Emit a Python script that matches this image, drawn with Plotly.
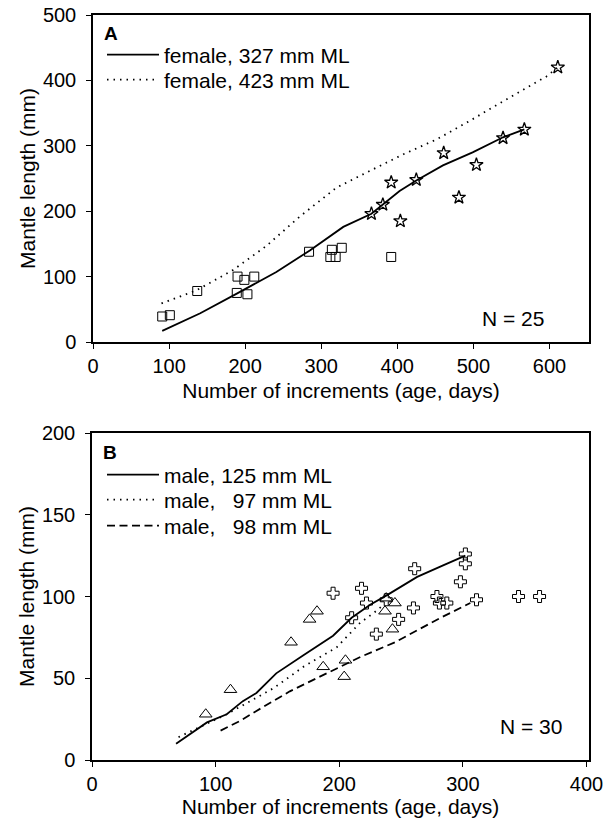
import plotly.graph_objects as go

# ---------------- Panel A data ----------------
a_sq_x = [91, 101, 137, 189, 190, 199, 203, 212, 284, 314, 312, 319, 327, 392]
a_sq_y = [39, 41, 78, 75, 100, 95, 73, 100, 138, 141, 130, 130, 144, 130]
a_star_x = [366, 381, 392, 404, 425, 461, 481, 504, 539, 567, 611]
a_star_y = [196, 210, 244, 185, 248, 289, 221, 271, 312, 325, 420]
a_f327_x = [91, 141, 189, 241, 285, 329, 366, 381, 403, 425, 460, 499, 539, 567]
a_f327_y = [17, 44, 74, 107, 140, 176, 196, 210, 231, 247, 270, 290, 313, 325]
a_f423_x = [90, 136, 184, 228, 272, 320, 368, 408, 452, 495, 539, 596, 611]
a_f423_y = [59, 79, 110, 147, 192, 236, 264, 287, 310, 338, 368, 406, 420]

# ---------------- Panel B data ----------------
b_tri_x = [92, 112, 161, 176, 182, 187, 205, 204, 237, 245, 243, 238]
b_tri_y = [28, 43, 72, 86, 91, 57, 61, 51, 91, 96, 80, 99]
b_cr_x = [195, 218, 222, 210, 230, 238, 261, 260, 248, 279, 281, 287, 298, 302, 302, 311, 345, 362]
b_cr_y = [102, 105, 96, 87, 77, 98, 117, 93, 86, 100, 96, 96, 109, 126, 120, 98, 100, 100]
b_m125_x = [68, 93, 109, 122, 133, 149, 171, 195, 210, 225, 239, 263, 284, 302]
b_m125_y = [10, 23, 28, 36, 41, 53, 64, 76, 87, 95, 101, 112, 119, 125]
b_m97_x = [70, 109, 147, 171, 198, 217, 228, 236]
b_m97_y = [14, 28, 44, 57, 69, 84, 90, 95]
b_m98_x = [104, 120, 133, 160, 198, 217, 245, 282, 306]
b_m98_y = [18, 24, 30, 42, 56, 63, 72, 87, 96]

a_xticks = [0, 100, 200, 300, 400, 500, 600]
a_yticks = [0, 100, 200, 300, 400, 500]
b_xticks = [0, 100, 200, 300, 400]
b_yticks = [0, 50, 100, 150, 200]

NB = "\u00a0"
FONT = "Liberation Sans, Arial, Helvetica, sans-serif"
W, H = 612, 820
TICK_FS = 20
TXT_FS = 21

def px_x(p):
    return p / W

def px_y(p):
    return 1 - p / H

fig = go.Figure()

# Panel A
fig.add_trace(go.Scatter(x=a_sq_x, y=a_sq_y, mode="markers", showlegend=False,
                         marker=dict(symbol="square-open", size=9, color="black", line=dict(width=1)),
                         xaxis="x", yaxis="y"))
fig.add_trace(go.Scatter(x=a_star_x, y=a_star_y, mode="markers", showlegend=False,
                         marker=dict(symbol="star-open", size=10, color="black", line=dict(width=1.3)),
                         xaxis="x", yaxis="y"))
fig.add_trace(go.Scatter(x=a_f327_x, y=a_f327_y, mode="lines", name="female, 327 mm ML",
                         line=dict(color="black", width=1.8), xaxis="x", yaxis="y", legend="legend"))
fig.add_trace(go.Scatter(x=a_f423_x, y=a_f423_y, mode="lines", name="female, 423 mm ML",
                         line=dict(color="black", width=1.8, dash="1.5px,5px"), xaxis="x", yaxis="y",
                         legend="legend2"))

# Panel B
fig.add_trace(go.Scatter(x=b_tri_x, y=b_tri_y, mode="markers", showlegend=False,
                         marker=dict(symbol="triangle-up-open", size=11, color="black", line=dict(width=1)),
                         xaxis="x2", yaxis="y2"))
fig.add_trace(go.Scatter(x=b_cr_x, y=b_cr_y, mode="markers", showlegend=False,
                         marker=dict(symbol="cross-open", size=10, color="black", line=dict(width=1)),
                         xaxis="x2", yaxis="y2"))
fig.add_trace(go.Scatter(x=b_m125_x, y=b_m125_y, mode="lines", name="male, 125 mm ML",
                         line=dict(color="black", width=1.8), xaxis="x2", yaxis="y2", legend="legend3"))
fig.add_trace(go.Scatter(x=b_m97_x, y=b_m97_y, mode="lines", name="male," + NB * 3 + "97 mm ML",
                         line=dict(color="black", width=1.8, dash="1.5px,5px"), xaxis="x2", yaxis="y2",
                         legend="legend4"))
fig.add_trace(go.Scatter(x=b_m98_x, y=b_m98_y, mode="lines", name="male," + NB * 3 + "98 mm ML",
                         line=dict(color="black", width=1.8, dash="8px,4.5px"), xaxis="x2", yaxis="y2",
                         legend="legend5"))

axis_common = dict(showline=True, linecolor="black", linewidth=1.5, mirror=True,
                   ticks="outside", ticklen=5, tickwidth=1, tickcolor="black",
                   showgrid=False, zeroline=False, tickfont=dict(size=TICK_FS, color="black"),
                   automargin=False)

def leg(ypx):
    return dict(x=px_x(102), y=px_y(ypx), xanchor="left", yanchor="middle",
                bgcolor="rgba(0,0,0,0)", borderwidth=0, font=dict(size=TXT_FS),
                itemwidth=52, tracegroupgap=0)

fig.update_layout(
    width=W, height=H,
    margin=dict(l=0, r=0, t=0, b=0),
    paper_bgcolor="white", plot_bgcolor="white",
    font=dict(family=FONT, size=TXT_FS, color="black"),
    xaxis=dict(domain=[px_x(93), px_x(589)], range=[0, 652], tickvals=a_xticks,
               anchor="y", title=dict(text="Number of increments (age, days)", standoff=8,
                                      font=dict(size=TXT_FS)), **axis_common),
    yaxis=dict(domain=[px_y(342), px_y(15)], range=[0, 500], tickvals=a_yticks,
               anchor="x", ticklabelstandoff=6,
               title=dict(text="Mantle length (mm)", standoff=2, font=dict(size=TXT_FS)),
               **axis_common),
    xaxis2=dict(domain=[px_x(92), px_x(589)], range=[0, 402], tickvals=b_xticks,
                anchor="y2", title=dict(text="Number of increments (age, days)", standoff=0,
                                        font=dict(size=TXT_FS)), **axis_common),
    yaxis2=dict(domain=[px_y(760), px_y(433)], range=[0, 200], tickvals=b_yticks,
                anchor="x2", ticklabelstandoff=6,
                title=dict(text="Mantle length (mm)", standoff=2, font=dict(size=TXT_FS)),
                **axis_common),
    legend=leg(55),
    legend2=leg(80),
    legend3=leg(475),
    legend4=leg(500),
    legend5=leg(526),
    annotations=[
        dict(text="<b>A</b>", x=px_x(102), y=px_y(33), xref="paper", yref="paper",
             xanchor="left", yanchor="middle", showarrow=False, font=dict(size=19)),
        dict(text="<b>B</b>", x=px_x(101), y=px_y(452), xref="paper", yref="paper",
             xanchor="left", yanchor="middle", showarrow=False, font=dict(size=19)),
        dict(text="N = 25", x=px_x(546), y=px_y(318), xref="paper", yref="paper",
             xanchor="right", yanchor="middle", showarrow=False, font=dict(size=TXT_FS)),
        dict(text="N = 30", x=px_x(564), y=px_y(726), xref="paper", yref="paper",
             xanchor="right", yanchor="middle", showarrow=False, font=dict(size=TXT_FS)),
    ],
)

fig.write_html("out.html", config={"displayModeBar": False},
               post_script="document.body.style.margin='0';document.body.style.overflow='hidden';")
